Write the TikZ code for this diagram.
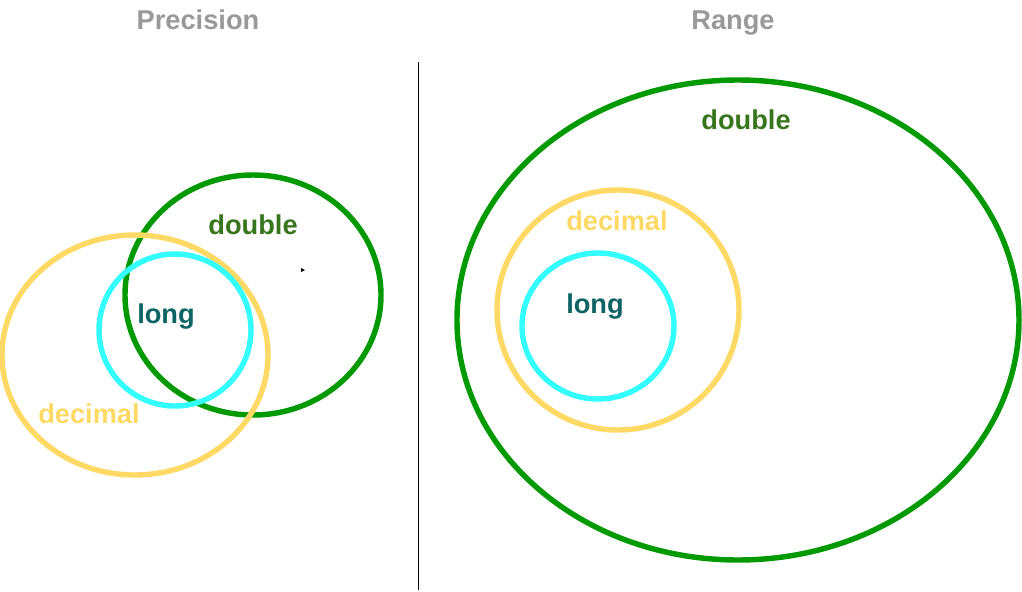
\documentclass[tikz,border=0pt]{standalone}
\usepackage{fontspec}
\setmainfont{Liberation Sans}
\usepackage{tikz}

\definecolor{ringgreen}{HTML}{009900}
\definecolor{ringyellow}{HTML}{FFD966}
\definecolor{ringcyan}{HTML}{33FFFF}
\definecolor{txtgreen}{HTML}{38761D}
\definecolor{txtteal}{HTML}{0E6464}
\definecolor{txtgray}{HTML}{999999}

\begin{document}
\begin{tikzpicture}[x=0.02cm,y=-0.02cm,
  ring/.style={line width=3.1pt},
  lbl/.style={font=\bfseries\fontsize{15.5}{18}\selectfont, inner sep=0pt},
  title/.style={lbl, text=txtgray}]
\useasboundingbox (0,0) rectangle (1022,592);
\node[title] (prec) at (198,20) {Precision};
\node[title] (range) at (733,23) {Range};
\coordinate (top) at (418,62);
\coordinate (bot) at (418,590);
\draw[line width=0.5pt] (top) -- (bot);
% precision side
\draw[ring, ringgreen] (253,295) ellipse [x radius=128, y radius=120];
\draw[ring, ringyellow] (135,355) ellipse [x radius=133, y radius=120];
\draw[ring, ringcyan] (175,330) ellipse [x radius=76, y radius=76];
\node[lbl, text=txtgreen] (pdouble) at (253,225) {double};
\node[lbl, text=txtteal] (plong) at (166,317) {long};
\node[lbl, text=ringyellow] (pdecimal) at (89,414) {decimal};
\fill (301,268) -- (305,270) -- (301,272) -- cycle;
% range side
\draw[ring, ringgreen] (738,320) ellipse [x radius=281, y radius=240];
\draw[ring, ringyellow] (618,310) ellipse [x radius=121, y radius=120];
\draw[ring, ringcyan] (598,326) ellipse [x radius=76, y radius=73];
\node[lbl, text=txtgreen] (rdouble) at (746,120) {double};
\node[lbl, text=ringyellow] (rdecimal) at (617,221) {decimal};
\node[lbl, text=txtteal] (rlong) at (595,307) {long};
\end{tikzpicture}
\end{document}
